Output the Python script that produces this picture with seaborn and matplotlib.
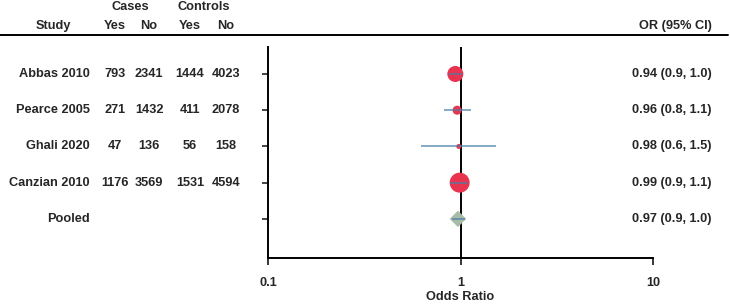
import numpy as np
import pandas as pd
import matplotlib
matplotlib.use("Agg")
import matplotlib.pyplot as plt
import matplotlib.transforms as mtrans
from matplotlib.lines import Line2D
import seaborn as sns

studies = ["Abbas 2010", "Pearce 2005", "Ghali 2020", "Canzian 2010", "Pooled"]
cases_yes = ["793", "271", "47", "1176", ""]
cases_no = ["2341", "1432", "136", "3569", ""]
ctrl_yes = ["1444", "411", "56", "1531", ""]
ctrl_no = ["4023", "2078", "158", "4594", ""]
odds = [0.94, 0.96, 0.98, 0.99, 0.97]
ci_low = [0.87, 0.82, 0.625, 0.887, 0.90]
ci_high = [1.02, 1.13, 1.53, 1.10, 1.05]
weights = [133, 42, 13, 207, 70]
or_labels = ["0.94 (0.9, 1.0)", "0.96 (0.8, 1.1)", "0.98 (0.6, 1.5)",
             "0.99 (0.9, 1.1)", "0.97 (0.9, 1.0)"]
xticks = [0.1, 1, 10]
xticklabels = ["0.1", "1", "10"]

sns.set_style("white")
plt.rcParams['font.family'] = ['Liberation Sans', 'DejaVu Sans']
plt.rcParams['font.weight'] = 'bold'

W, H = 730, 305
fig = plt.figure(figsize=(W / 100, H / 100), dpi=100)
x0, x1, ytop, ybot = 268, 653, 47, 258
ax = fig.add_axes([x0 / W, 1 - ybot / H, (x1 - x0) / W, (ybot - ytop) / H])

ypos = np.arange(1, len(studies) + 1)
df = pd.DataFrame({"study": studies, "y": ypos, "or": odds,
                   "lo": ci_low, "hi": ci_high, "w": weights})
studies_df = df.iloc[:4]
pooled_df = df.iloc[4:]

sns.scatterplot(data=studies_df, x="or", y="y", size="w", sizes=(13, 207),
                size_norm=(13, 207), color="#E8344E", edgecolor="none",
                legend=False, ax=ax, zorder=3)
sns.scatterplot(data=pooled_df, x="or", y="y", marker="D", s=70,
                color="#A6BBA8", edgecolor="none", legend=False, ax=ax, zorder=3)
ax.hlines(df["y"], df["lo"], df["hi"], color="#4A7FA8", lw=1.1, alpha=0.85, zorder=4)
ax.axvline(1, color="black", lw=1.4, zorder=2)

fs = 9.2
ax.set_xscale("log")
ax.set_xlim(0.1, 10)
ax.set_ylim(6.08, 0.255)
ax.set_xticks(xticks)
ax.set_xticklabels(xticklabels, fontsize=fs, fontweight="bold")
ax.xaxis.set_minor_locator(matplotlib.ticker.NullLocator())
ax.set_yticks(ypos)
ax.set_yticklabels([])
ax.tick_params(axis="x", direction="out", length=5, width=1.3, pad=9, bottom=True)
ax.tick_params(axis="y", direction="out", length=4, width=1.2, left=True)
ax.set_xlabel("Odds Ratio", fontsize=fs, fontweight="bold", labelpad=1)
ax.set_ylabel("")
sns.despine(ax=ax, top=True, right=True)
for s in ["left", "bottom"]:
    ax.spines[s].set_linewidth(1.4)
    ax.spines[s].set_color("black")

tr = mtrans.blended_transform_factory(fig.transFigure, ax.transData)
def fx(px):
    return px / W
for i, y in enumerate(ypos):
    ax.text(fx(90), y, studies[i], transform=tr, ha="right", va="center", fontsize=fs, fontweight="bold")
    ax.text(fx(115), y, cases_yes[i], transform=tr, ha="center", va="center", fontsize=fs, fontweight="bold")
    ax.text(fx(149), y, cases_no[i], transform=tr, ha="center", va="center", fontsize=fs, fontweight="bold")
    ax.text(fx(190), y, ctrl_yes[i], transform=tr, ha="center", va="center", fontsize=fs, fontweight="bold")
    ax.text(fx(226), y, ctrl_no[i], transform=tr, ha="center", va="center", fontsize=fs, fontweight="bold")
    ax.text(fx(712), y, or_labels[i], transform=tr, ha="right", va="center", fontsize=fs, fontweight="bold")

def fy(py):
    return 1 - py / H
fig.text(fx(53), fy(26), "Study", ha="center", va="center", fontsize=fs, fontweight="bold")
fig.text(fx(130), fy(7), "Cases", ha="center", va="center", fontsize=fs, fontweight="bold")
fig.text(fx(204), fy(7), "Controls", ha="center", va="center", fontsize=fs, fontweight="bold")
fig.text(fx(115), fy(26), "Yes", ha="center", va="center", fontsize=fs, fontweight="bold")
fig.text(fx(149), fy(26), "No", ha="center", va="center", fontsize=fs, fontweight="bold")
fig.text(fx(190), fy(26), "Yes", ha="center", va="center", fontsize=fs, fontweight="bold")
fig.text(fx(226), fy(26), "No", ha="center", va="center", fontsize=fs, fontweight="bold")
fig.text(fx(712), fy(26), "OR (95% CI)", ha="right", va="center", fontsize=fs, fontweight="bold")
fig.add_artist(Line2D([0, fx(728)], [fy(35), fy(35)], transform=fig.transFigure,
                      color="black", lw=1.4))

fig.savefig("out.png", dpi=100)
